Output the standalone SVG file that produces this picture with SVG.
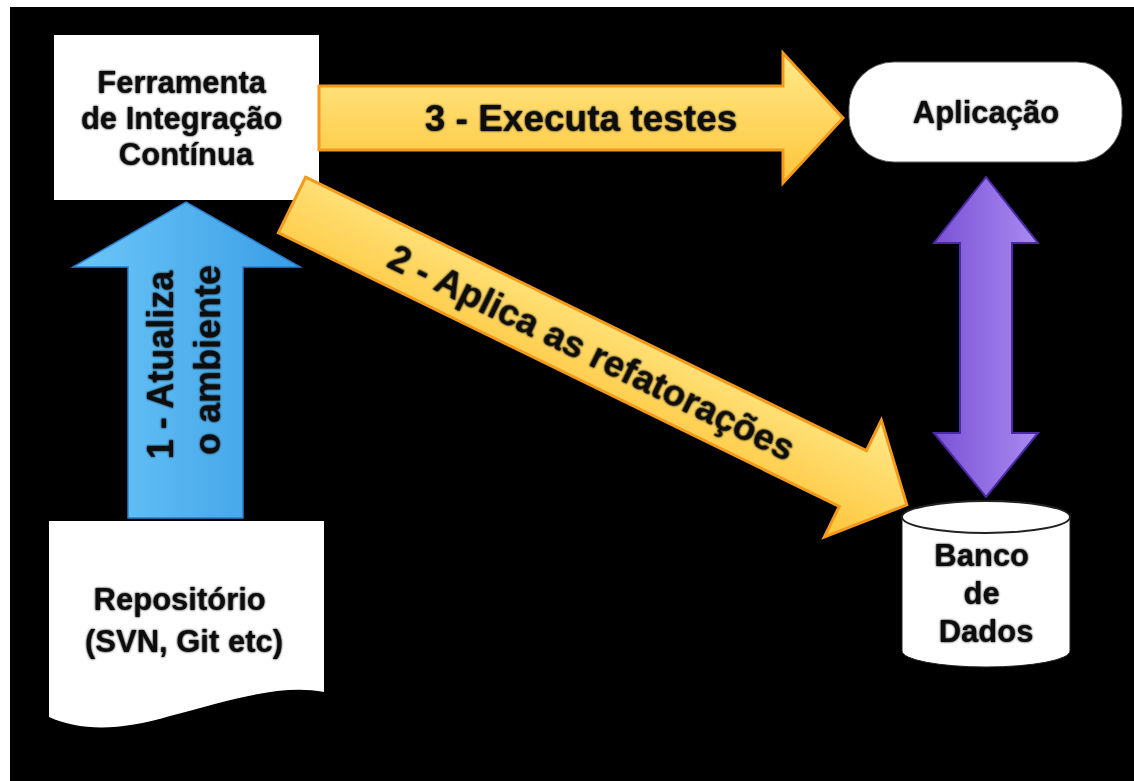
<svg xmlns="http://www.w3.org/2000/svg" width="1134" height="781" viewBox="0 0 1134 781">
  <defs>
    <linearGradient id="gYellow" x1="0" y1="0" x2="0" y2="1">
      <stop offset="0" stop-color="#ffe98a"/>
      <stop offset="1" stop-color="#ffc53a"/>
    </linearGradient>
    <linearGradient id="gBlue" x1="0" y1="0" x2="1" y2="0">
      <stop offset="0" stop-color="#6cc6f7"/>
      <stop offset="1" stop-color="#3a9ee6"/>
    </linearGradient>
    <linearGradient id="gPurple" x1="0" y1="0" x2="1" y2="0">
      <stop offset="0" stop-color="#7a52d6"/>
      <stop offset="1" stop-color="#a98af0"/>
    </linearGradient>
    <filter id="glow" x="-10%" y="-10%" width="120%" height="120%">
      <feGaussianBlur in="SourceAlpha" stdDeviation="1.2" result="b"/>
      <feMerge><feMergeNode in="b"/><feMergeNode in="SourceGraphic"/></feMerge>
    </filter>
  </defs>
  <style>
    .lbl { font-family: "Liberation Sans", Arial, sans-serif; font-weight: bold; fill: #111; text-anchor: middle; }
    .node { fill: #ffffff; }
    .yarrow { fill: url(#gYellow); stroke: #f39a1c; stroke-width: 3; stroke-linejoin: miter; }
    .barrow { fill: url(#gBlue); stroke: #2a7fcf; stroke-width: 1.5; }
    .parrow { fill: url(#gPurple); stroke: #4b2aa8; stroke-width: 2; }
  </style>

  <rect x="0" y="0" width="1134" height="781" fill="#ffffff"/>
  <rect x="10" y="7" width="1124" height="774" fill="#000000"/>

  <g id="node-ferramenta">
    <rect class="node" x="54" y="35" width="265" height="165"/>
    <text class="lbl" font-size="31" filter="url(#glow)">
      <tspan x="186" y="93">Ferramenta</tspan>
      <tspan x="186" y="129">de Integração</tspan>
      <tspan x="186" y="165">Contínua</tspan>
    </text>
  </g>

  <g id="node-aplicacao">
    <rect class="node" x="849" y="62" width="273" height="100" rx="45" ry="45" stroke="#666" stroke-width="1"/>
    <text class="lbl" font-size="31" x="986" y="123" filter="url(#glow)">Aplicação</text>
  </g>

  <g id="node-repositorio">
    <path class="node" d="M49,521 L324,521 L324,692 C 280,684 230,700 170,716 C 120,731 80,731 49,717 Z"/>
    <text class="lbl" font-size="31" filter="url(#glow)">
      <tspan x="184" y="610">Repositório</tspan>
      <tspan x="184" y="652">(SVN, Git etc)</tspan>
    </text>
  </g>

  <g id="node-banco">
    <path class="node" d="M902,517 L902,651 A84,16 0 0 0 1070,651 L1070,517 Z" stroke="#222" stroke-width="1"/>
    <ellipse cx="986" cy="517" rx="84" ry="16" fill="#ffffff" stroke="#222" stroke-width="2"/>
    <text class="lbl" font-size="31" filter="url(#glow)">
      <tspan x="986" y="566">Banco</tspan>
      <tspan x="986" y="604">de</tspan>
      <tspan x="986" y="642">Dados</tspan>
    </text>
  </g>

  <g id="connectors">
    <g id="arrow-1">
      <path class="barrow" d="M128,518 L128,267 L73,267 L186,202 L300,267 L243,267 L243,518 Z"/>
      <text class="lbl" font-size="36" transform="translate(185,360) rotate(-90)" filter="url(#glow)">
        <tspan x="0" y="-12">1 - Atualiza</tspan>
        <tspan x="0" y="35">o ambiente</tspan>
      </text>
    </g>
    <g id="arrow-3">
      <path class="yarrow" d="M319,86 L783,86 L783,53 L843,118 L783,183 L783,150 L319,150 Z"/>
      <text class="lbl" font-size="37" x="581" y="131" filter="url(#glow)">3 - Executa testes</text>
    </g>
    <g id="arrow-2" transform="translate(292,205) rotate(26)">
      <path class="yarrow" d="M0,-31 L624,-31 L624,-65 L684,0 L624,65 L624,31 L0,31 Z"/>
      <text class="lbl" font-size="37" x="334" y="14" filter="url(#glow)">2 - Aplica as refatorações</text>
    </g>
    <g id="arrow-app-db">
      <path class="parrow" d="M986,177 L1038,243 L1012,243 L1012,433 L1038,433 L986,497 L934,433 L960,433 L960,243 L934,243 Z"/>
    </g>
  </g>
</svg>
